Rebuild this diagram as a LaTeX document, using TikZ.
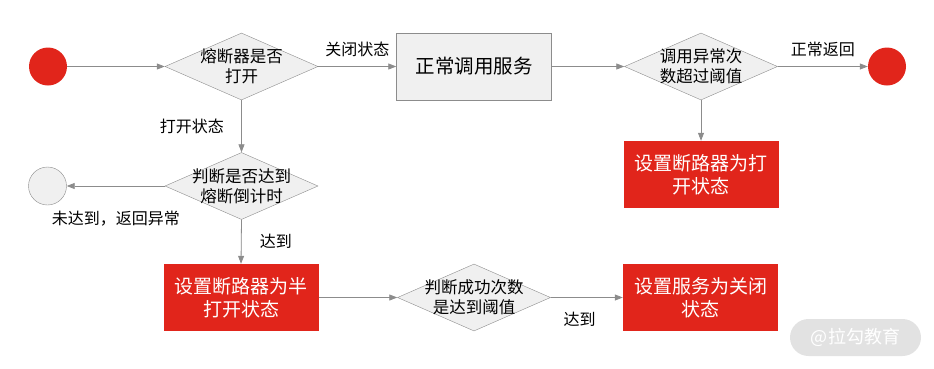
\documentclass[tikz,border=0pt]{standalone}
\usepackage{fontspec}
\setmainfont{Noto Sans CJK SC}
\usetikzlibrary{shapes.geometric,arrows.meta}
\definecolor{stopred}{HTML}{E1251B}
\definecolor{boxgray}{HTML}{F0F0F0}
\definecolor{linegray}{HTML}{8C8C8C}
\definecolor{markgray}{HTML}{E2E2E2}
\begin{document}
\begin{tikzpicture}[x=1pt, y=-1pt, >={Triangle[length=8pt,width=6pt]},
    font=\fontsize{16}{20}\selectfont,
    flow/.style={->, draw=linegray, fill=linegray, line width=0.8pt},
    decision/.style={diamond, draw=linegray, fill=boxgray, minimum width=153pt,
        minimum height=67pt, inner xsep=-48pt, inner ysep=0pt, align=center,
        font=\fontsize{16.5}{20}\selectfont},
    process/.style={rectangle, draw=linegray, fill=boxgray, minimum width=155pt,
        minimum height=67pt, font=\fontsize{19.5}{22}\selectfont},
    stopbox/.style={rectangle, fill=stopred, text=white, minimum width=155pt,
        minimum height=67pt, align=center, font=\fontsize{19}{23}\selectfont},
    dot/.style={circle, minimum size=38pt, inner sep=0pt}]
    % canvas
    \useasboundingbox (0,0) rectangle (934,368);
    % top row
    \node[dot, fill=stopred] (start) at (48,66.5) {};
    \node[decision] (isopen) at (241.5,66.5) {熔断器是否\\打开};
    \node[process] (call) at (474,66.5) {正常调用服务};
    \node[decision] (overlimit) at (701,66.5) {调用异常次\\数超过阈值};
    \node[dot, fill=stopred] (finish) at (887,66.5) {};
    % middle row
    \node[dot, fill=boxgray, draw=linegray] (fail) at (47.5,186) {};
    \node[decision] (timeout) at (241.5,186) {判断是否达到\\熔断倒计时};
    \node[stopbox] (setopen) at (701,174.5) {设置断路器为打\\开状态};
    % bottom row
    \node[stopbox] (sethalf) at (241,297.5) {设置断路器为半\\打开状态};
    \node[decision] (success) at (474,297.5) {判断成功次数\\是达到阈值};
    \node[stopbox] (setclose) at (700.5,297.5) {设置服务为关闭\\状态};
    % connectors
    \draw[flow] (start) -- (isopen.west);
    \draw[flow] (isopen.east) -- node[midway, above=6pt] {关闭状态} (call.west);
    \draw[flow] (call.east) -- (overlimit.west);
    \draw[flow] (overlimit.east) -- node[midway, above=6pt] {正常返回} (finish);
    \draw[flow] (overlimit.south) -- (setopen.north);
    \draw[flow] (isopen.south) -- node[midway, left=14pt] {打开状态} (timeout.north);
    \draw[flow] (timeout.west) -- node[midway, below=21pt] {未达到，返回异常} (fail);
    \draw[flow] (timeout.south) -- node[midway, right=15pt] {达到} (sethalf.north);
    \draw[flow] (sethalf.east) -- (success.west);
    \draw[flow] (success.east) -- node[pos=0.4, below=11pt] {达到} (setclose.west);
    % watermark
    \node[rounded corners=18.5pt, fill=markgray, text=white, minimum width=131pt,
        minimum height=37pt, font=\fontsize{18}{20}\selectfont] (mark) at (855.5,337.5) {@拉勾教育};
\end{tikzpicture}
\end{document}
